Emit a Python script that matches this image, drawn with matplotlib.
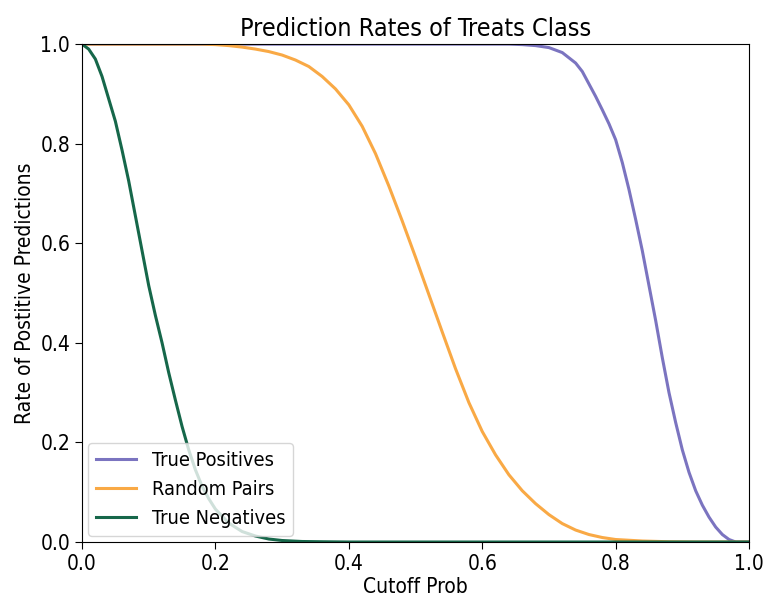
import numpy as np
import matplotlib
matplotlib.use('Agg')
import matplotlib.pyplot as plt

# cutoff grid and rates
cutoff_tp = [0.0, 0.64, 0.66, 0.68, 0.70, 0.72, 0.74, 0.75, 0.76, 0.77, 0.78, 0.79, 0.80,
             0.81, 0.82, 0.83, 0.84, 0.85, 0.86, 0.87, 0.88, 0.89, 0.90, 0.91, 0.92,
             0.93, 0.94, 0.95, 0.96, 0.97, 0.98, 1.0]
true_pos = [1.0, 1.0, 0.999, 0.997, 0.993, 0.983, 0.962, 0.945, 0.92, 0.895, 0.868, 0.84,
            0.808, 0.762, 0.708, 0.648, 0.585, 0.515, 0.445, 0.37, 0.30, 0.24, 0.185,
            0.14, 0.103, 0.074, 0.05, 0.03, 0.015, 0.005, 0.0, 0.0]

cutoff_rp = [0.0, 0.18, 0.20, 0.22, 0.24, 0.26, 0.28, 0.30, 0.32, 0.34, 0.36, 0.38, 0.40,
             0.42, 0.44, 0.46, 0.48, 0.50, 0.52, 0.54, 0.56, 0.58, 0.60, 0.62, 0.64,
             0.66, 0.68, 0.70, 0.72, 0.74, 0.76, 0.78, 0.80, 0.84, 0.88, 0.92, 1.0]
random_pairs = [1.0, 1.0, 0.999, 0.997, 0.994, 0.99, 0.985, 0.978, 0.968, 0.955, 0.935,
                0.91, 0.878, 0.835, 0.78, 0.715, 0.645, 0.572, 0.497, 0.422, 0.348, 0.28,
                0.222, 0.175, 0.135, 0.103, 0.077, 0.055, 0.037, 0.024, 0.015, 0.009,
                0.005, 0.002, 0.0005, 0.0, 0.0]

cutoff_tn = [0.0, 0.01, 0.02, 0.03, 0.04, 0.05, 0.06, 0.07, 0.08, 0.09, 0.10, 0.11, 0.12,
             0.13, 0.14, 0.15, 0.16, 0.17, 0.18, 0.19, 0.20, 0.22, 0.24, 0.26, 0.28,
             0.30, 0.33, 0.36, 0.40, 1.0]
true_neg = [1.0, 0.99, 0.97, 0.935, 0.89, 0.845, 0.787, 0.725, 0.655, 0.585, 0.515, 0.455,
            0.40, 0.34, 0.285, 0.232, 0.185, 0.145, 0.112, 0.087, 0.066, 0.038, 0.021,
            0.012, 0.006, 0.003, 0.001, 0.0005, 0.0, 0.0]

plt.rcParams['font.family'] = ['DejaVu Sans']
plt.rcParams['font.stretch'] = 'condensed'
plt.rcParams['font.size'] = 15
plt.rcParams['xtick.major.size'] = 5
plt.rcParams['ytick.major.size'] = 5

fig = plt.figure(figsize=(7.63, 5.96), dpi=100)
ax = fig.add_axes([0.1075, 0.0906, 0.8742, 0.8354])

ax.plot(cutoff_tp, true_pos, color='#7b74c0', lw=2.2, label='True Positives')
ax.plot(cutoff_rp, random_pairs, color='#f9a945', lw=2.2, label='Random Pairs')
ax.plot(cutoff_tn, true_neg, color='#16674a', lw=2.2, label='True Negatives')

ax.set_xlim(0, 1)
ax.set_ylim(0, 1)
ax.set_title('Prediction Rates of Treats Class', fontsize=18)
ax.set_xlabel('Cutoff Prob', labelpad=2)
ax.set_ylabel('Rate of Postitive Predictions')
ax.legend(loc='lower left', fontsize=14.3, borderaxespad=0.3)

plt.savefig('out.png', dpi=100)
